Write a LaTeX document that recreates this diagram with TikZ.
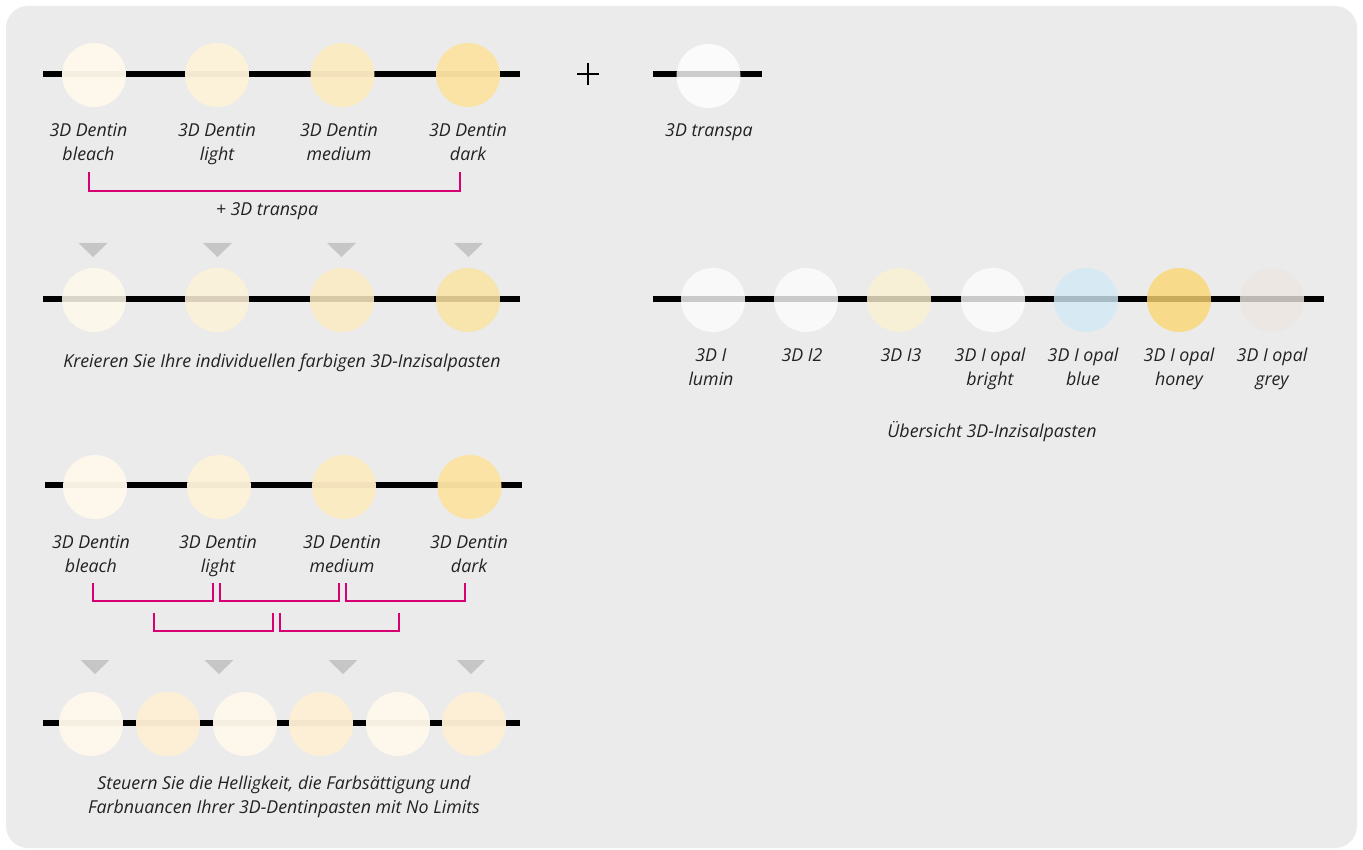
\documentclass[tikz,border=0pt]{standalone}
\usepackage{fontspec}
\setmainfont{Open Sans}
\definecolor{bgc}{HTML}{EBEBEB}
\definecolor{txt}{HTML}{222222}
\definecolor{mag}{RGB}{214,0,114}
\definecolor{cbleach}{HTML}{FEF9EB}
\definecolor{clight}{HTML}{FDF2D9}
\definecolor{cmedium}{HTML}{FCEBC2}
\definecolor{cdark}{HTML}{FBE3A3}
\definecolor{cmixa}{HTML}{FDF0D5}
\definecolor{cwhite}{HTML}{FDFDFD}
\definecolor{cithree}{HTML}{FBF0D1}
\definecolor{cblue}{HTML}{D3EAF7}
\definecolor{choney}{HTML}{FCD872}
\definecolor{cgrey}{HTML}{EDE7E1}
\tikzset{
  dot/.style={circle, draw=none, minimum size=64pt, inner sep=0pt, fill opacity=0.96},
  dotb/.style={dot, fill opacity=0.86},
  dotr/.style={dot, fill opacity=0.8},
  axis/.style={line width=5.3pt, black},
  brk/.style={line width=2.3pt, mag},
  lbl/.style={font=\fontsize{17.8}{24}\selectfont\itshape, text=txt, align=center, inner sep=0pt, anchor=base},
  tri/.style={fill=gray!45!white, draw=none},
}
\begin{document}
\begin{tikzpicture}[x=1pt,y=-1pt]
\useasboundingbox (0,0) rectangle (1363,850);
\fill[bgc, rounded corners=22pt] (6,6) rectangle (1357,848);

% ---------- Row 1 ----------
\coordinate (r1a) at (43,74);
\coordinate (r1b) at (520,74);
\draw[axis] (r1a) -- (r1b);
\node[dot, fill=cbleach] (d1) at (94,75) {};
\node[dot, fill=clight] (d2) at (217,75) {};
\node[dot, fill=cmedium] (d3) at (342.5,75) {};
\node[dot, fill=cdark] (d4) at (468,75) {};
\node[lbl] (l1) at (88.5,161) {3D Dentin\\bleach};
\node[lbl] (l2) at (217,161) {3D Dentin\\light};
\node[lbl] (l3) at (339,161) {3D Dentin\\medium};
\node[lbl] (l4) at (468,161) {3D Dentin\\dark};
\coordinate (b1a) at (89,172);
\coordinate (b1b) at (460,172);
\draw[brk] (b1a) -- (89,190.7) -- (460,190.7) -- (b1b);
\node[lbl] (plus3d) at (267,216) {+ 3D transpa};

% plus and transpa
\node[inner sep=0pt] (plus) at (588,74) {\tikz[x=1pt,y=1pt]{\draw[line width=2.6pt, black] (-11,0) -- (11,0) (0,-11) -- (0,11);}};
\coordinate (tra) at (653,74);
\coordinate (trb) at (762,74);
\draw[axis] (tra) -- (trb);
\node[dotr, fill=white] (tr) at (708.5,76) {};
\node[lbl] (trl) at (709,137) {3D transpa};

% ---------- Row 2 ----------
\foreach \x/\n in {93/t1,217.5/t2,341.5/t3,468.5/t4}{
  \fill[tri] (\x-14.5,243) -- (\x+14.5,243) -- (\x,257) -- cycle;
}
\coordinate (r2a) at (43,299);
\coordinate (r2b) at (520,299);
\draw[axis] (r2a) -- (r2b);
\node[dotb, fill=cbleach] (e1) at (94,300) {};
\node[dotb, fill=clight] (e2) at (217,300) {};
\node[dotb, fill=cmedium] (e3) at (342,300) {};
\node[dotb, fill=cdark] (e4) at (468,300) {};
\node[lbl] (k) at (282,367) {Kreieren Sie Ihre individuellen farbigen 3D-Inzisalpasten};

% ---------- Right row ----------
\coordinate (rra) at (653,299);
\coordinate (rrb) at (1324,299);
\draw[axis] (rra) -- (rrb);
\node[dotr, fill=cwhite] (i1) at (713,300) {};
\node[dotr, fill=cwhite] (i2) at (806,300) {};
\node[dotr, fill=cithree] (i3) at (899,300) {};
\node[dotr, fill=cwhite] (i4) at (993,300) {};
\node[dotr, fill=cblue] (i5) at (1086,300) {};
\node[dotr, fill=choney] (i6) at (1179,300) {};
\node[dotr, fill=cgrey] (i7) at (1272,300) {};
\node[lbl] (il1) at (711,385.5) {3D I\\lumin};
\node[lbl] (il2) at (802,361.5) {3D I2};
\node[lbl] (il3) at (901,361.5) {3D I3};
\node[lbl] (il4) at (990,385.5) {3D I opal\\bright};
\node[lbl] (il5) at (1083,385.5) {3D I opal\\blue};
\node[lbl] (il6) at (1179,385.5) {3D I opal\\honey};
\node[lbl] (il7) at (1272,385.5) {3D I opal\\grey};
\node[lbl] (ub) at (992,437) {Übersicht 3D-Inzisalpasten};

% ---------- Row 3 ----------
\coordinate (r3a) at (45,485);
\coordinate (r3b) at (522,485);
\draw[axis] (r3a) -- (r3b);
\node[dot, fill=cbleach] (f1) at (95,487) {};
\node[dot, fill=clight] (f2) at (219,487) {};
\node[dot, fill=cmedium] (f3) at (344,487) {};
\node[dot, fill=cdark] (f4) at (469.5,487) {};
\node[lbl] (m1) at (91,572) {3D Dentin\\bleach};
\node[lbl] (m2) at (218,572) {3D Dentin\\light};
\node[lbl] (m3) at (342,572) {3D Dentin\\medium};
\node[lbl] (m4) at (469,572) {3D Dentin\\dark};
\draw[brk] (93,583) -- (93,601) -- (213,601) -- (213,583);
\draw[brk] (220,583) -- (220,601) -- (339,601) -- (339,583);
\draw[brk] (346,583) -- (346,601) -- (465,601) -- (465,583);
\draw[brk] (154,613) -- (154,631) -- (273,631) -- (273,613);
\draw[brk] (280,613) -- (280,631) -- (399,631) -- (399,613);

% ---------- Row 4 ----------
\foreach \x in {95,219,343,471}{
  \fill[tri] (\x-14.5,660) -- (\x+14.5,660) -- (\x,674) -- cycle;
}
\coordinate (r4a) at (43,723);
\coordinate (r4b) at (520,723);
\draw[axis] (r4a) -- (r4b);
\node[dot, fill=cbleach] (g1) at (91,724) {};
\node[dot, fill=cmixa] (g2) at (168,724) {};
\node[dot, fill=cbleach] (g3) at (245,724) {};
\node[dot, fill=cmixa] (g4) at (321,724) {};
\node[dot, fill=cbleach] (g5) at (398,724) {};
\node[dot, fill=cmixa] (g6) at (474,724) {};
\node[lbl] (s) at (284,813) {Steuern Sie die Helligkeit, die Farbsättigung und\\Farbnuancen Ihrer 3D-Dentinpasten mit No Limits};
\end{tikzpicture}
\end{document}
